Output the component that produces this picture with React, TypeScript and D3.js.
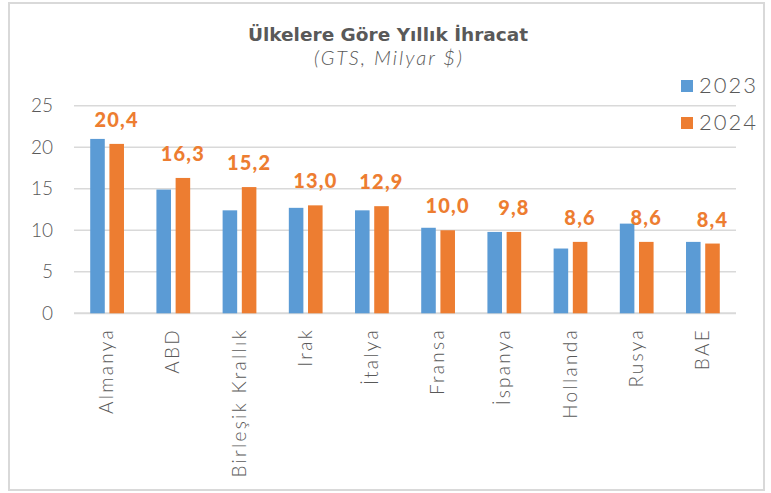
import React from "react";
import * as d3 from "d3";

const categories = ["Almanya", "ABD", "Birleşik Krallık", "Irak", "İtalya", "Fransa", "İspanya", "Hollanda", "Rusya", "BAE"];
const values2023 = [21.0, 14.9, 12.4, 12.7, 12.4, 10.3, 9.8, 7.8, 10.8, 8.6];
const values2024 = [20.4, 16.3, 15.2, 13.0, 12.9, 10.0, 9.8, 8.6, 8.6, 8.4];
const seriesNames = ["2023", "2024"];
const yTicks = [0, 5, 10, 15, 20, 25];

const W = 771;
const H = 493;
const COLORS = ["#5b9bd5", "#ed7d31"];
const TEXT = "#595959";
const FONT = "Lato, 'Open Sans', sans-serif";

export default function App() {
  const left = 74, right = 736, top = 105.7, bottom = 313.3;
  const x = d3.scaleBand<string>().domain(categories).range([left, right]).padding(0);
  const y = d3.scaleLinear().domain([0, 25]).range([bottom, top]);
  const bw = x.bandwidth();
  const barW = bw * 0.22;
  const innerGap = bw * 0.07;
  const series = [values2023, values2024];
  const fmt = (v: number) => d3.format(".1f")(v).replace(".", ",");

  return (
    <svg width={W} height={H} style={{ position: "absolute", left: 0, top: 0, background: "#fff" }}>
      <rect x={9} y={3} width={755} height={487} fill="#fff" stroke="#d9d9d9" strokeWidth={2} />
      <text x={388} y={41} textAnchor="middle" fontFamily="'DejaVu Sans', sans-serif" fontWeight={700} fontSize={18.5} fill={TEXT}>
        Ülkelere Göre Yıllık İhracat
      </text>
      <text x={389} y={65} textAnchor="middle" fontFamily={FONT} fontStyle="italic" fontWeight={300} fontSize={20} letterSpacing={2} fill={TEXT}>
        (GTS, Milyar $)
      </text>
      {yTicks.map((t) => (
        <g key={t}>
          <line x1={left} x2={right} y1={y(t)} y2={y(t)} stroke="#d9d9d9" strokeWidth={t === 0 ? 2 : 1.5} />
          <text x={53} y={y(t)} dy="0.35em" textAnchor="end" fontFamily={FONT} fontWeight={300} fontSize={19} fill={TEXT}>
            {t}
          </text>
        </g>
      ))}
      {categories.map((c, i) => {
        const cx = x(c)! + bw / 2;
        return (
          <g key={c}>
            {series.map((s, k) => {
              const bx = k === 0 ? cx - innerGap / 2 - barW : cx + innerGap / 2;
              return (
                <rect key={k} x={bx} y={y(s[i])} width={barW} height={y(0) - y(s[i])} fill={COLORS[k]} />
              );
            })}
            <text
              x={cx + innerGap / 2 + barW / 2}
              y={y(values2024[i]) - 17}
              textAnchor="middle"
              fontFamily={FONT}
              fontWeight={900}
              fontSize={20}
              letterSpacing={1.2}
              fill={COLORS[1]}
            >
              {fmt(values2024[i])}
            </text>
            <text
              transform={`translate(${cx + 6},328) rotate(-90)`}
              textAnchor="end"
              fontFamily={FONT}
              fontWeight={300}
              fontSize={19}
              letterSpacing={2.3}
              fill={TEXT}
            >
              {c}
            </text>
          </g>
        );
      })}
      {seriesNames.map((n, k) => (
        <g key={n}>
          <rect x={681} y={80 + k * 37} width={12} height={12} fill={COLORS[k]} />
          <text x={699} y={93 + k * 37} fontFamily={FONT} fontWeight={300} fontSize={22} letterSpacing={2} fill={TEXT}>
            {n}
          </text>
        </g>
      ))}
    </svg>
  );
}
